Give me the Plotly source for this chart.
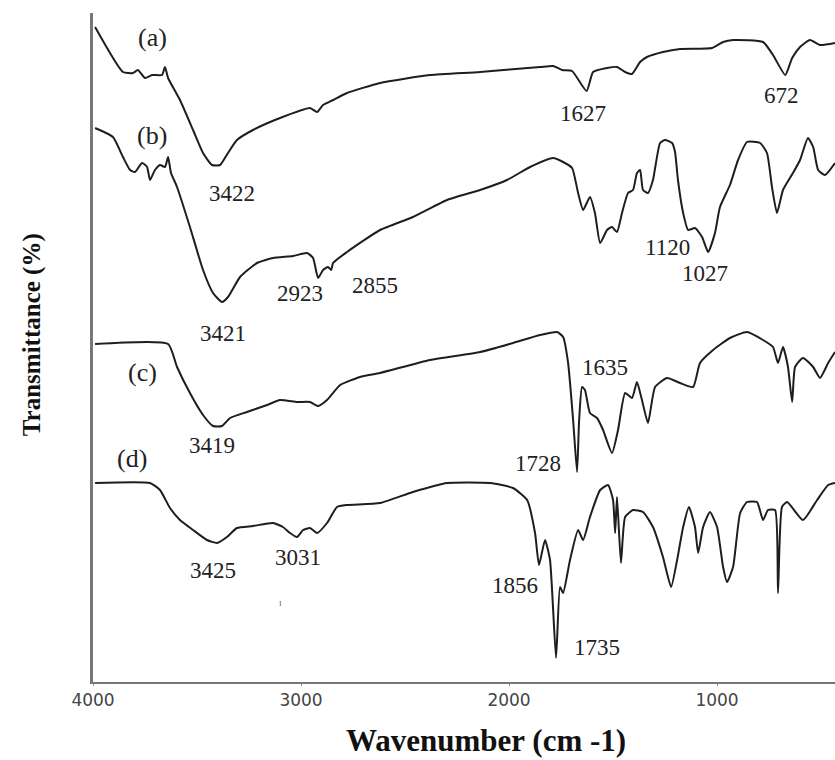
import plotly.graph_objects as go

# ---- data (wavenumber in cm-1, transmittance in arbitrary offset units) ----
wn_a = [3990, 3856, 3808, 3784, 3750, 3716, 3668, 3654, 3639, 3582,
        3519, 3471, 3428, 3389, 3351, 3308, 3231, 3101, 2957, 2923,
        2894, 2846, 2779, 2620, 2380, 2139, 1851, 1788, 1745, 1697,
        1627, 1596, 1529, 1481, 1442, 1409, 1370, 1337, 1260, 1178,
        1024, 971, 923, 779, 731, 672, 639, 601, 553, 505, 433]
t_a = [655, 610, 609, 612, 604, 607, 607, 615, 604, 582,
       552, 529, 517, 517, 529, 542, 552, 564, 574, 570,
       577, 582, 589, 599, 607, 610, 615, 616, 612, 611,
       591, 610, 614, 615, 610, 608, 620, 625, 630, 633,
       634, 640, 642, 640, 627, 607, 624, 635, 642, 637, 639]

wn_b = [3990, 3904, 3856, 3822, 3798, 3764, 3740, 3726, 3702, 3678,
        3654, 3639, 3625, 3596, 3534, 3471, 3423, 3380, 3351, 3293,
        3212, 3135, 3038, 2971, 2942, 2918, 2894, 2870, 2855, 2846,
        2779, 2620, 2462, 2298, 2139, 2010, 1899, 1788, 1740, 1697,
        1668, 1644, 1611, 1587, 1562, 1529, 1505, 1481, 1457, 1428,
        1404, 1385, 1370, 1356, 1332, 1308, 1274, 1250, 1216, 1202,
        1188, 1163, 1139, 1106, 1072, 1043, 1010, 986, 938, 899,
        856, 793, 760, 736, 712, 683, 635, 601, 563, 538, 514, 481, 433]
t_b = [554, 545, 525, 512, 510, 519, 515, 502, 512, 517,
       515, 525, 509, 495, 455, 412, 389, 380, 385, 405,
       419, 424, 426, 429, 424, 404, 412, 415, 412, 419,
       430, 452, 465, 482, 492, 502, 515, 524, 520, 514,
       489, 472, 485, 469, 439, 452, 455, 450, 469, 489,
       492, 509, 512, 492, 489, 502, 539, 542, 539, 530,
       502, 469, 452, 454, 445, 430, 449, 475, 497, 522,
       540, 539, 529, 495, 469, 492, 509, 522, 544, 535, 512, 507, 519]

wn_c = [3990, 3639, 3596, 3534, 3471, 3423, 3380, 3341, 3260, 3163,
        3101, 3019, 2957, 2918, 2875, 2812, 2716, 2620, 2380, 2139,
        1981, 1851, 1769, 1740, 1716, 1692, 1673, 1663, 1649, 1635,
        1611, 1577, 1548, 1505, 1476, 1442, 1409, 1385, 1361, 1332,
        1298, 1240, 1178, 1115, 1082, 1019, 938, 856, 779, 731,
        707, 683, 659, 639, 625, 587, 538, 505, 466, 433]
t_c = [338, 338, 315, 289, 267, 256, 256, 264, 270, 277,
       282, 280, 280, 276, 282, 297, 305, 309, 322, 330,
       339, 347, 350, 345, 319, 262, 210, 262, 295, 292,
       269, 264, 252, 229, 252, 289, 284, 300, 282, 259,
       295, 304, 299, 295, 319, 332, 344, 350, 342, 335,
       319, 335, 315, 280, 315, 324, 315, 304, 319, 330]

wn_d = [3990, 3726, 3678, 3630, 3582, 3519, 3452, 3404, 3356, 3308,
        3231, 3135, 3087, 3053, 3019, 2990, 2957, 2923, 2875, 2827,
        2779, 2620, 2462, 2298, 2091, 1981, 1913, 1875, 1856, 1827,
        1803, 1774, 1755, 1740, 1707, 1668, 1644, 1611, 1562, 1524,
        1500, 1490, 1481, 1462, 1442, 1404, 1356, 1308, 1260, 1221,
        1192, 1163, 1135, 1106, 1091, 1067, 1034, 1000, 971, 952,
        923, 889, 856, 808, 779, 755, 721, 707, 688, 663,
        587, 519, 466, 433]
t_d = [199, 199, 192, 174, 162, 152, 142, 139, 145, 154,
       156, 159, 155, 149, 145, 152, 154, 149, 159, 175,
       177, 179, 190, 199, 199, 194, 182, 149, 117, 142,
       122, 24, 95, 89, 122, 152, 142, 165, 192, 197,
       182, 149, 185, 119, 165, 172, 170, 155, 125, 95,
       122, 155, 175, 155, 129, 155, 170, 155, 115, 100,
       115, 169, 180, 180, 162, 172, 172, 89, 175, 180,
       162, 182, 197, 199]

# curve labels
curve_text = ["(a)", "(b)", "(c)", "(d)"]
curve_wn = [3716, 3716, 3764, 3812]
curve_t = [645, 547, 310, 224]

# peak labels: text, wavenumber, transmittance
peak_text = ["3422", "1627", "672",
             "3421", "2923", "2855", "1120", "1027",
             "3419", "1635", "1728",
             "3425", "3031", "1856", "1735"]
peak_wn = [3332, 1644, 688,
           3375, 3005, 2644, 1240, 1058,
           3428, 1538, 1861,
           3423, 3014, 1971, 1577]
peak_t = [489, 569, 587,
          349, 389, 397, 435, 409,
          237, 315, 219,
          112, 125, 97, 35]

x_ticks = [4000, 3000, 2000, 1000]

fig = go.Figure()
for wn, t in [(wn_a, t_a), (wn_b, t_b), (wn_c, t_c), (wn_d, t_d)]:
    fig.add_trace(go.Scatter(x=wn, y=t, mode="lines",
                             line=dict(color="#1e1e1e", width=2,
                                       shape="spline", smoothing=0.5),
                             showlegend=False, hoverinfo="skip"))

for txt, xw, yt in zip(curve_text, curve_wn, curve_t):
    fig.add_annotation(x=xw, y=yt, xref="x", yref="y", text=txt,
                       showarrow=False,
                       font=dict(family="Liberation Serif", size=26, color="#222"))

for txt, xw, yt in zip(peak_text, peak_wn, peak_t):
    fig.add_annotation(x=xw, y=yt, xref="x", yref="y", text=txt,
                       showarrow=False,
                       font=dict(family="Liberation Serif", size=23, color="#222"))

# tiny stray mark seen in the original figure
fig.add_annotation(x=3101, y=80, xref="x", yref="y", text="ı", showarrow=False,
                   font=dict(family="Liberation Serif", size=10, color="#a0603a"))

# axis titles
fig.add_annotation(x=0.53, y=-0.087, xref="paper", yref="paper",
                   text="<b>Wavenumber (cm -1)</b>", showarrow=False,
                   xanchor="center", yanchor="middle",
                   font=dict(family="Liberation Serif", size=31, color="#111"))
fig.add_annotation(x=-0.083, y=0.519, xref="paper", yref="paper",
                   text="<b>Transmittance (%)</b>", showarrow=False,
                   textangle=-90, xanchor="center", yanchor="middle",
                   font=dict(family="Liberation Serif", size=25, color="#111"))

fig.update_layout(
    width=835, height=760,
    margin=dict(l=93, r=0, t=13, b=78),
    paper_bgcolor="white", plot_bgcolor="white",
    xaxis=dict(range=[4000, 433], tickvals=x_ticks,
               ticktext=[str(v) for v in x_ticks],
               showgrid=False, zeroline=False,
               showline=True, linecolor="#777", linewidth=2,
               ticks="outside", ticklen=2, tickcolor="#999",
               tickfont=dict(family="DejaVu Sans", size=17, color="#444")),
    yaxis=dict(range=[0, 669], showticklabels=False, ticks="",
               showgrid=False, zeroline=False,
               showline=True, linecolor="#777", linewidth=2.5),
)

fig.write_html("out.html")
